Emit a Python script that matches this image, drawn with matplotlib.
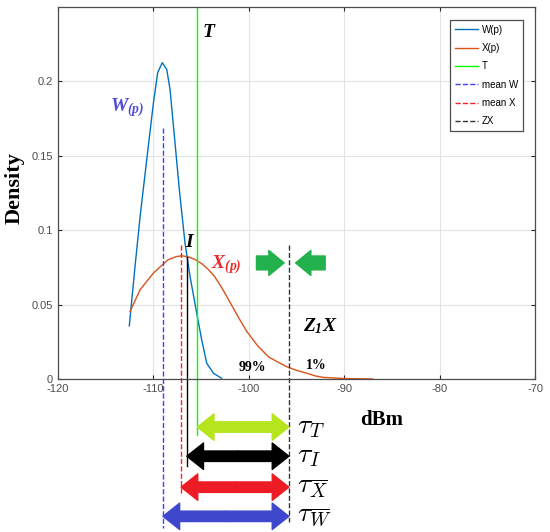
import matplotlib
matplotlib.use("Agg")
from matplotlib import pyplot as plt

# W(p) density curve
w_x = [-112.53, -111.93, -111.4, -110.7, -110.0, -109.55, -109.07, -108.6, -108.26,
       -107.8, -107.28, -106.69, -106.16, -105.53, -104.94, -104.41, -103.7, -102.84]
w_y = [0.0357, 0.0756, 0.109, 0.1475, 0.1856, 0.206, 0.2126, 0.208, 0.1946,
       0.163, 0.127, 0.0914, 0.0689, 0.0465, 0.0263, 0.0105, 0.0038, 0.0005]

# X(p) density curve
x_x = [-112.45, -111.4, -110.0, -108.5, -107.6, -107.03, -106.4, -105.7, -105.0,
       -104.3, -103.6, -102.8, -101.97, -101.0, -100.22, -99.1, -97.96, -97.0,
       -96.03, -95.0, -93.9, -93.0, -92.2, -90.0, -87.0]
x_y = [0.0453, 0.060, 0.0712, 0.080, 0.0823, 0.0828, 0.0822, 0.0805, 0.0778,
       0.0740, 0.0690, 0.0610, 0.0515, 0.0405, 0.032, 0.0225, 0.015, 0.0115,
       0.0083, 0.0058, 0.0038, 0.002, 0.0011, 0.0003, 0.0]

T = -105.4        # threshold
mean_w = -109.0
mean_x = -107.1
I = -106.5
zx = -95.8

xticks = [-120, -110, -100, -90, -80, -70]
yticks = [0, 0.05, 0.1, 0.15, 0.2]
ytick_labels = ["0", "0.05", "0.1", "0.15", "0.2"]

plt.rcParams["font.family"] = ["Liberation Sans", "DejaVu Sans"]
plt.rcParams["axes.unicode_minus"] = False
plt.rcParams["mathtext.fontset"] = "custom"
plt.rcParams["mathtext.it"] = "Liberation Serif:italic:bold"
plt.rcParams["mathtext.rm"] = "Liberation Serif:italic:bold"
plt.rcParams["mathtext.bf"] = "Liberation Serif:italic:bold"

fig = plt.figure(figsize=(5.5, 5.32), dpi=100)
ax = fig.add_axes([0.1055, 0.2876, 0.8673, 0.6992])

ax.plot(w_x, w_y, color="#0072BD", lw=1.0, label="W(p)")
ax.plot(x_x, x_y, color="#D95319", lw=1.0, label="X(p)")
ax.plot([T, T], [0.25, -0.0377], color="#00FF00", lw=1.0, clip_on=False, label="T")
ax.plot([mean_w, mean_w], [0.169, -0.1], "--", color="#4040FF", lw=1.0, clip_on=False, label="mean W")
ax.plot([mean_x, mean_x], [0.090, -0.078], "--", color="#FF2020", lw=1.0, clip_on=False, label="mean X")
ax.plot([zx, zx], [0.090, -0.096], "--", color="#333333", lw=1.0, clip_on=False, label="ZX")
ax.plot([I, I], [0.082, -0.0586], color="k", lw=1.0, clip_on=False)

ax.set_xlim(-120, -70)
ax.set_ylim(0, 0.25)
ax.set_xticks(xticks)
ax.set_yticks(yticks)
ax.set_yticklabels(ytick_labels)
ax.tick_params(direction="in", length=3, top=True, right=True, labelsize=8,
               colors="#262626", labelcolor="#4d4d4d", width=0.8)
ax.grid(True, color="#e3e3e3", lw=0.8)
ax.set_axisbelow(True)
for s in ax.spines.values():
    s.set_color("#4d4d4d")
    s.set_linewidth(0.9)

leg = ax.legend(loc="upper right", bbox_to_anchor=(0.975, 0.965), borderaxespad=0,
                fontsize=7, handlelength=2.4, labelspacing=0.85, fancybox=False,
                framealpha=1, edgecolor="#4d4d4d", borderpad=0.5, handletextpad=0.4)
leg.get_frame().set_linewidth(0.9)

# labels on the plot
serif = "Liberation Serif"
ax.text(-104.1, 0.233, r"$T$", fontsize=14, ha="center", va="center")
ax.text(-112.7, 0.1825, r"$W_{(p)}$", fontsize=14, color="#4d4dd9", ha="center", va="center")
ax.text(-106.2, 0.0916, r"$I$", fontsize=14, ha="center", va="center")
ax.text(-102.4, 0.077, r"$X_{(p)}$", fontsize=14, color="#ee2b2b", ha="center", va="center")
ax.text(-92.5, 0.0355, r"$Z_1X$", fontsize=14, ha="center", va="center")
ax.text(-99.6, 0.0078, "99%", fontsize=10, family=serif, weight="bold", ha="center", va="center")
ax.text(-92.9, 0.0088, "1%", fontsize=10, family=serif, weight="bold", ha="center", va="center")

# green arrows pointing at ZX
green_style = "simple,head_length=11,head_width=18,tail_width=10"
ax.annotate("", xy=(-96.3, 0.078), xytext=(-99.2, 0.078),
            arrowprops=dict(arrowstyle=green_style, mutation_scale=1, color="#22B14C",
                            shrinkA=0, shrinkB=0))
ax.annotate("", xy=(-95.1, 0.078), xytext=(-92.0, 0.078),
            arrowprops=dict(arrowstyle=green_style, mutation_scale=1, color="#22B14C",
                            shrinkA=0, shrinkB=0))

# double arrows below the axis
tau_rows = [
    (T, -0.0323, "#B5E61D", r"$\tau_T$"),
    (I, -0.0519, "#000000", r"$\tau_I$"),
    (mean_x, -0.0727, "#ED1C24", r"$\tau_{\overline{X}}$"),
    (mean_w, -0.0923, "#3F48CC", r"$\tau_{\overline{W}}$"),
]
dbl_style = "simple,head_length=12,head_width=19,tail_width=7.5"
for x0, yy, col, lab in tau_rows:
    mid = (x0 + zx) / 2
    for end in (x0, zx):
        ax.annotate("", xy=(end, yy), xytext=(mid, yy), annotation_clip=False,
                    arrowprops=dict(arrowstyle=dbl_style, mutation_scale=1, color=col,
                                    shrinkA=0, shrinkB=0))
    ax.text(-94.9, yy, lab, fontsize=20, math_fontfamily="cm", ha="left", va="center",
            clip_on=False)

ax.text(-86.1, -0.0276, "dBm", fontsize=15, family=serif, weight="bold",
        ha="center", va="center", clip_on=False)
fig.text(15 / 550, 1 - 188 / 532, "Density", fontsize=16, family=serif, weight="bold",
         rotation=90, ha="center", va="center")

fig.savefig("out.png", dpi=100)
